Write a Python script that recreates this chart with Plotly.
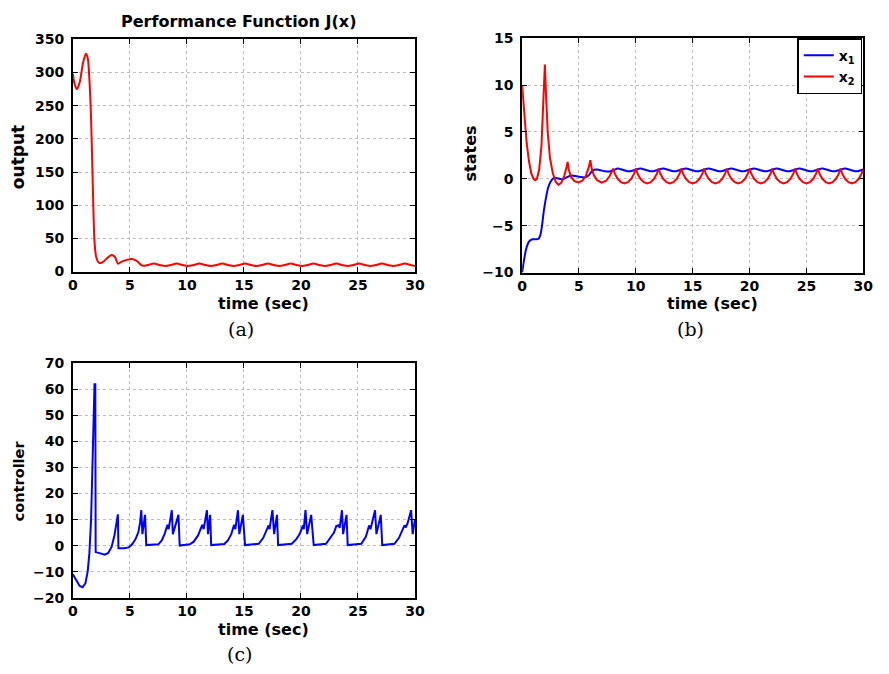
import plotly.graph_objects as go

# ---------------- data ----------------
# (a) performance function J(x)
t_J = [0, 0.15, 0.35, 0.6, 0.9, 1.15, 1.3, 1.45, 1.6, 1.75, 1.9, 2.05, 2.3, 2.6, 3.0, 3.4,
       3.7, 3.95, 4.3, 4.8, 5.2, 5.6, 6.1, 6.6, 7.1, 7.6, 8.1, 8.6, 9.1, 9.6, 10.1, 10.6,
       11.1, 11.6, 12.1, 12.6, 13.1, 13.6, 14.1, 14.6, 15.1, 15.6, 16.1, 16.6, 17.1, 17.6,
       18.1, 18.6, 19.1, 19.6, 20.1, 20.6, 21.1, 21.6, 22.1, 22.6, 23.1, 23.6, 24.1, 24.6,
       25.1, 25.6, 26.1, 26.6, 27.1, 27.6, 28.1, 28.6, 29.1, 29.6, 30.0]
J_val = [298, 283, 275, 285, 315, 328, 322, 290, 230, 130, 45, 22, 13, 14, 20, 25,
         22, 12, 15, 18, 19, 16, 9, 10, 12, 10, 8.5, 10, 12, 10, 8.5, 10,
         12, 10, 8.5, 10, 12, 10, 8.5, 10, 12, 10, 8.5, 10, 12, 10,
         8.5, 10, 12, 10, 8.5, 10, 12, 10, 8.5, 10, 12, 10, 8.5, 10,
         12, 10, 8.5, 10, 12, 10, 8.5, 10, 12, 10, 8.5]

# (b) states x1, x2
t_x1 = [0, 0.15, 0.35, 0.6, 0.9, 1.2, 1.45, 1.6, 1.75, 1.9, 2.1, 2.3, 2.5, 2.75, 3.0, 3.3,
        3.6, 3.9, 4.3, 4.7, 5.1, 5.5, 5.8, 6.1, 6.4, 6.8, 7.3, 7.7, 8.1, 8.4, 8.9, 9.4,
        9.9, 10.4, 10.9, 11.4, 11.9, 12.4, 12.9, 13.4, 13.9, 14.4, 14.9, 15.4, 15.9, 16.4,
        16.9, 17.4, 17.9, 18.4, 18.9, 19.4, 19.9, 20.4, 20.9, 21.4, 21.9, 22.4, 22.9, 23.4,
        23.9, 24.4, 24.9, 25.4, 25.9, 26.4, 26.9, 27.4, 27.9, 28.4, 28.9, 29.4, 30.0]
x1_val = [-10, -8.8, -7.5, -6.7, -6.45, -6.45, -6.4, -6.0, -5.0, -3.5, -2.0, -0.9, -0.3, 0.05, 0.1, 0.0,
          -0.05, 0.15, 0.35, 0.3, 0.2, 0.15, 0.3, 0.75, 1.0, 0.95, 0.8, 0.78, 0.95, 1.1, 0.95, 0.8,
          0.95, 1.1, 0.95, 0.8, 0.95, 1.1, 0.95, 0.8, 0.95, 1.1, 0.95, 0.8, 0.95, 1.1,
          0.95, 0.8, 0.95, 1.1, 0.95, 0.8, 0.95, 1.1, 0.95, 0.8, 0.95, 1.1, 0.95, 0.8,
          0.95, 1.1, 0.95, 0.8, 0.95, 1.1, 0.95, 0.8, 0.95, 1.1, 0.95, 0.8, 1.0]

t_x2 = [0, 0.2, 0.4, 0.6, 0.8, 1.0, 1.15, 1.3, 1.5, 1.7, 1.85, 2.0, 2.1, 2.25, 2.45, 2.7,
        2.95, 3.2, 3.45, 3.7, 3.9, 4.0, 4.1, 4.3, 4.6, 4.95, 5.3, 5.6, 5.85, 6.0, 6.1, 6.3,
        6.6, 7.0, 7.4, 7.7, 7.9,
        8.0, 8.15, 8.4, 8.7, 9.0, 9.3, 9.6, 9.85,
        10.0, 10.15, 10.4, 10.7, 11.0, 11.3, 11.6, 11.85,
        12.0, 12.15, 12.4, 12.7, 13.0, 13.3, 13.6, 13.85,
        14.0, 14.15, 14.4, 14.7, 15.0, 15.3, 15.6, 15.85,
        16.0, 16.15, 16.4, 16.7, 17.0, 17.3, 17.6, 17.85,
        18.0, 18.15, 18.4, 18.7, 19.0, 19.3, 19.6, 19.85,
        20.0, 20.15, 20.4, 20.7, 21.0, 21.3, 21.6, 21.85,
        22.0, 22.15, 22.4, 22.7, 23.0, 23.3, 23.6, 23.85,
        24.0, 24.15, 24.4, 24.7, 25.0, 25.3, 25.6, 25.85,
        26.0, 26.15, 26.4, 26.7, 27.0, 27.3, 27.6, 27.85,
        28.0, 28.15, 28.4, 28.7, 29.0, 29.3, 29.6, 29.85,
        30.0]
x2_val = [10, 6.5, 3.8, 1.9, 0.6, 0.0, -0.15, 0.0, 1.0, 3.5, 7.5, 12.2, 9.0, 5.0, 2.2, 0.6,
          -0.3, -0.65, -0.4, 0.3, 1.2, 1.8, 1.0, 0.2, -0.25, -0.38, -0.2, 0.3, 1.2, 2.0, 1.2, 0.4,
          -0.15, -0.4, -0.2, 0.3, 0.8,
          1.1, 0.55, 0.0, -0.35, -0.48, -0.35, 0.0, 0.55,
          1.1, 0.55, 0.0, -0.35, -0.48, -0.35, 0.0, 0.55,
          1.1, 0.55, 0.0, -0.35, -0.48, -0.35, 0.0, 0.55,
          1.1, 0.55, 0.0, -0.35, -0.48, -0.35, 0.0, 0.55,
          1.1, 0.55, 0.0, -0.35, -0.48, -0.35, 0.0, 0.55,
          1.1, 0.55, 0.0, -0.35, -0.48, -0.35, 0.0, 0.55,
          1.1, 0.55, 0.0, -0.35, -0.48, -0.35, 0.0, 0.55,
          1.1, 0.55, 0.0, -0.35, -0.48, -0.35, 0.0, 0.55,
          1.1, 0.55, 0.0, -0.35, -0.48, -0.35, 0.0, 0.55,
          1.1, 0.55, 0.0, -0.35, -0.48, -0.35, 0.0, 0.55,
          1.1, 0.55, 0.0, -0.35, -0.48, -0.35, 0.0, 0.55,
          1.0]

# (c) controller
t_u = [0, 0.3, 0.6, 0.85, 1.1, 1.3, 1.45, 1.6, 1.75, 1.9, 1.97, 2.0, 2.4, 2.8, 3.1, 3.4,
       3.65, 3.85, 3.95, 4.0, 4.5, 4.9, 5.2, 5.5, 5.75, 5.9, 6.0, 6.1, 6.33, 6.44,
       7.0, 7.5, 7.8, 8.05, 8.3, 8.4, 8.68, 8.77, 9.26, 9.37,
       10.26, 10.6, 10.98, 11.2, 11.35, 11.47, 11.76, 11.85, 12.04, 12.13,
       13.28, 13.6, 13.9, 14.14, 14.25, 14.48, 14.6, 14.91, 15.1,
       16.3, 16.7, 17.0, 17.16, 17.25, 17.5, 17.65, 17.9, 18.0,
       19.2, 19.6, 19.9, 20.17, 20.25, 20.4, 20.55, 20.9, 21.12,
       22.2, 22.6, 22.9, 23.1, 23.3, 23.4, 23.6, 23.7, 24.0, 24.1,
       25.3, 25.7, 25.98, 26.1, 26.5, 26.62, 27.0, 27.13,
       28.2, 28.6, 28.9, 29.08, 29.2, 29.35, 29.66, 29.8, 30.0]
u_val = [-11, -13.5, -15.5, -16, -14.5, -10, -3, 10, 35, 62, 62, -2.5, -3.0, -3.5, -2.8, -0.5,
         4, 9, 12, -1, -1, -0.7, 0.5, 2.5, 5.2, 9, 13.6, 4.4, 11.8, 0.2,
         0.3, 0.5, 2.0, 4.5, 8.0, 6.3, 13.6, 4.4, 11.8, 0.0,
         0.5, 1.5, 3.9, 6.0, 8.0, 6.3, 13.6, 4.4, 11.8, 0.2,
         0.6, 2.0, 4.5, 8.0, 6.3, 13.6, 4.4, 11.8, 0.2,
         0.7, 3.0, 6.0, 7.75, 6.3, 13.6, 4.4, 11.8, 0.2,
         0.7, 2.5, 4.5, 7.75, 6.3, 13.6, 4.4, 11.8, 0.2,
         0.7, 3.0, 5.0, 7.5, 7.8, 6.8, 13.6, 4.4, 11.8, 0.2,
         0.7, 3.5, 7.75, 6.3, 13.6, 4.4, 11.8, 0.2,
         0.7, 3.0, 6.0, 7.75, 7.0, 8.5, 13.6, 4.4, 10.0]

x_ticks = [0, 5, 10, 15, 20, 25, 30]
ya_ticks = [0, 50, 100, 150, 200, 250, 300, 350]
yb_ticks = [-10, -5, 0, 5, 10, 15]
yc_ticks = [-20, -10, 0, 10, 20, 30, 40, 50, 60, 70]

# ---------------- figure ----------------
W, H = 889, 674
FONT = "DejaVu Sans"
RED = "#ff0000"
BLUE = "#0000ff"

fig = go.Figure()
fig.add_trace(go.Scatter(x=t_J, y=J_val, mode="lines", line=dict(color=RED, width=2, shape="spline", smoothing=0.8),
                         showlegend=False, xaxis="x", yaxis="y"))
fig.add_trace(go.Scatter(x=t_x1, y=x1_val, mode="lines", line=dict(color=BLUE, width=2, shape="spline", smoothing=0.8),
                         name="x<sub>1</sub>", xaxis="x2", yaxis="y2"))
fig.add_trace(go.Scatter(x=t_x2, y=x2_val, mode="lines", line=dict(color=RED, width=2),
                         name="x<sub>2</sub>", xaxis="x2", yaxis="y2"))
fig.add_trace(go.Scatter(x=t_u, y=u_val, mode="lines", line=dict(color=BLUE, width=2),
                         showlegend=False, xaxis="x3", yaxis="y3"))


def px(x):
    return x / W


def py(y):
    return 1 - y / H


tickfont = dict(family=FONT, size=14, color="black", weight="bold")
common = dict(showline=True, linecolor="black", linewidth=1.5, mirror="ticks",
              ticks="inside", ticklen=5, tickwidth=1, tickcolor="black",
              showgrid=True, gridcolor="#bdbdbd", griddash="dot", gridwidth=1,
              zeroline=False, tickfont=tickfont, fixedrange=True)

xa = dict(common, range=[0, 30], tickvals=x_ticks, ticklabelstandoff=0)
fig.update_layout(
    width=W, height=H,
    margin=dict(l=0, r=0, t=0, b=0),
    paper_bgcolor="white", plot_bgcolor="white",
    xaxis=dict(xa, domain=[px(69), px(417)], anchor="y"),
    yaxis=dict(common, domain=[py(270), py(32)], range=[0, 350], tickvals=ya_ticks, anchor="x",
               ticklabelstandoff=4),
    xaxis2=dict(xa, domain=[px(526), px(873)], anchor="y2"),
    yaxis2=dict(common, domain=[py(271), py(31)], range=[-10, 15], tickvals=yb_ticks, anchor="x2",
                ticklabelstandoff=4),
    xaxis3=dict(xa, domain=[px(69), px(417)], anchor="y3"),
    yaxis3=dict(common, domain=[py(604), py(364)], range=[-20, 70], tickvals=yc_ticks, anchor="x3",
                ticklabelstandoff=4),
    legend=dict(x=px(872), y=py(31), xanchor="right", yanchor="top",
                bgcolor="white", bordercolor="black", borderwidth=1.5,
                font=dict(family=FONT, size=14, color="black", weight="bold"),
                itemwidth=30, tracegroupgap=0),
    showlegend=True,
)

ann = []


def text(x, y, s, size, angle=0, family=FONT, weight="bold"):
    ann.append(dict(x=px(x), y=py(y), xref="paper", yref="paper", text=s, showarrow=False,
                    textangle=angle, xanchor="center", yanchor="middle",
                    font=dict(family=family, size=size, color="black", weight=weight)))


text(238, 14, "Performance Function J(x)", 16)
text(14, 153, "output", 17, -90)
text(473, 149, "states", 16, -90)
text(14, 484, "controller", 14.5, -90)
text(263, 303, "time (sec)", 16)
text(720, 303, "time (sec)", 16)
text(263, 637, "time (sec)", 16)
SERIF = "DejaVu Serif"
text(240, 329, "(a)", 19, family=SERIF, weight="normal")
text(697, 329, "(b)", 19, family=SERIF, weight="normal")
text(239, 662, "(c)", 19, family=SERIF, weight="normal")
fig.update_layout(annotations=ann)

fig.write_html("out.html")
